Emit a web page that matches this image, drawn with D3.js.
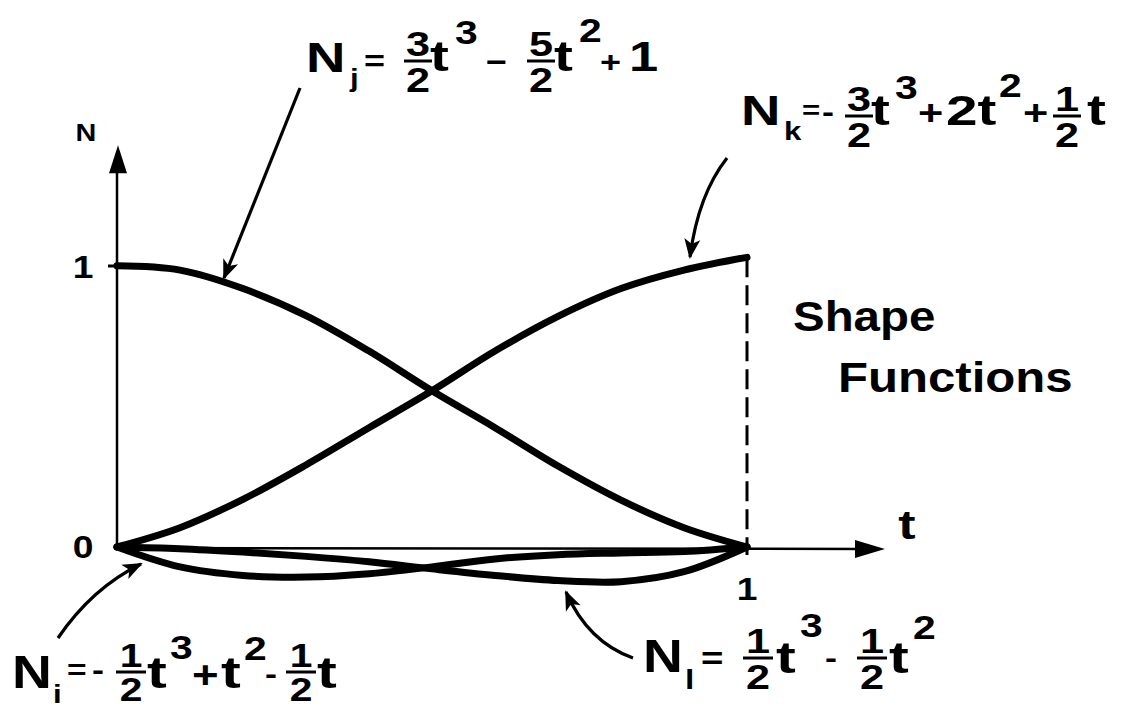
<!DOCTYPE html>
<html>
<head>
<meta charset="utf-8">
<script src="https://cdn.jsdelivr.net/npm/d3@7"></script>
<style>
  html, body { margin: 0; padding: 0; background: #fff; }
  svg { display: block; }
  text { font-family: "Liberation Sans", Arial, Helvetica, sans-serif; font-weight: bold; fill: #000; }
</style>
</head>
<body>
<svg id="chart" width="1141" height="713"></svg>
<script>
// Parameter t sampled across the segment
const tValues = [0, 0.1, 0.2, 0.3, 0.4, 0.5, 0.6, 0.7, 0.8, 0.9, 1];

// Shape function values at each t
const Nj = [0.99, 0.975, 0.91, 0.815, 0.69, 0.55, 0.42, 0.285, 0.165, 0.068, 0];
const Nk = [0, 0.068, 0.168, 0.289, 0.42, 0.55, 0.69, 0.812, 0.91, 0.975, 1.02];
const Ni = [0, -0.07, -0.1, -0.106, -0.094, -0.07, -0.042, -0.027, -0.021, -0.016, 0];
const Nl = [0, -0.006, -0.018, -0.033, -0.052, -0.077, -0.1, -0.118, -0.122, -0.087, 0];

// Axis ticks
const yTickValues = [0, 1];
const yTickLabels = ["0", "1"];
const xTickValues = [1];
const xTickLabels = ["1"];

const svg = d3.select("#chart");
svg.append("rect").attr("width", 1141).attr("height", 713).attr("fill", "#fff");

const x = d3.scaleLinear().domain([0, 1]).range([117, 747]);
const y = d3.scaleLinear().domain([0, 1]).range([547, 263]);

// arrowhead for annotation leaders
const defs = svg.append("defs");
defs.append("marker")
  .attr("id", "head")
  .attr("markerUnits", "userSpaceOnUse")
  .attr("viewBox", "-2 -10 24 20")
  .attr("markerWidth", 24).attr("markerHeight", 20)
  .attr("refX", 18).attr("refY", 0)
  .attr("orient", "auto")
  .append("path")
  .attr("d", "M0,-8 L20,0 L0,8 L5,0 Z")
  .attr("fill", "#000");

// ---- axes ----
const axes = svg.append("g");
const yTop = 1.415, xEnd = 1.219;
axes.append("line")
  .attr("x1", x(0)).attr("y1", y(0)).attr("x2", x(0)).attr("y2", y(yTop) + 20)
  .attr("stroke", "#000").attr("stroke-width", 2.5);
axes.append("path")
  .attr("d", `M${x(0) + 1},${y(yTop)} L${x(0) - 8},${y(yTop) + 28} L${x(0) + 10},${y(yTop) + 28} Z`)
  .attr("fill", "#000");
axes.append("line")
  .attr("x1", x(0)).attr("y1", y(0) + 1).attr("x2", x(xEnd) - 20).attr("y2", y(0) + 2)
  .attr("stroke", "#000").attr("stroke-width", 2.5);
axes.append("path")
  .attr("d", `M${x(xEnd)},${y(0) + 2} L${x(xEnd) - 30},${y(0) - 7} L${x(xEnd) - 30},${y(0) + 11} Z`)
  .attr("fill", "#000");

// tick at N = 1
axes.append("line")
  .attr("x1", x(0) - 9).attr("x2", x(0)).attr("y1", y(1) + 3).attr("y2", y(1) + 3)
  .attr("stroke", "#000").attr("stroke-width", 3);

// dashed guide at t = 1
axes.append("line")
  .attr("x1", x(1)).attr("x2", x(1))
  .attr("y1", y(Nk[Nk.length - 1])).attr("y2", y(0) + 8)
  .attr("stroke", "#000").attr("stroke-width", 3)
  .attr("stroke-dasharray", "20,8");

// tick labels
yTickValues.forEach((v, i) => {
  axes.append("text")
    .attr("transform", `translate(${x(0) - 34},${y(v) + (v === 0 ? 11 : 15)}) scale(1.2,1)`)
    .attr("text-anchor", "middle").attr("font-size", 31)
    .text(yTickLabels[i]);
});
xTickValues.forEach((v, i) => {
  axes.append("text")
    .attr("transform", `translate(${x(v)},${y(0) + 53}) scale(1.2,1)`)
    .attr("text-anchor", "middle").attr("font-size", 31)
    .text(xTickLabels[i]);
});
axes.append("text")
  .attr("transform", `translate(${x(0) - 31},${y(yTop) - 4}) scale(1.2,1)`)
  .attr("text-anchor", "middle").attr("font-size", 24).text("N");
axes.append("text")
  .attr("transform", `translate(${x(xEnd) + 22},${y(0) - 8}) scale(1.3,1)`)
  .attr("text-anchor", "middle").attr("font-size", 40).text("t");

// ---- curves ----
const line = d3.line()
  .x((d, i) => x(tValues[i]))
  .y(d => y(d))
  .curve(d3.curveCatmullRom.alpha(0.5));

[Nj, Nk, Ni, Nl].forEach(series => {
  svg.append("path")
    .attr("d", line(series))
    .attr("fill", "none")
    .attr("stroke", "#000")
    .attr("stroke-width", 7)
    .attr("stroke-linecap", "round")
    .attr("stroke-linejoin", "round");
});

// ---- annotation leaders ----
const leaders = [
  "M300,88 L224,278",
  "M727,158 Q698,195 690,257",
  "M58,638 Q92,588 141,564",
  "M633,658 Q588,642 566,592"
];
leaders.forEach(d => {
  svg.append("path").attr("d", d)
    .attr("fill", "none").attr("stroke", "#000").attr("stroke-width", 3.2)
    .attr("marker-end", "url(#head)");
});

// ---- formula labels ----
const lab = svg.append("g");
function piece(px, py, s, size, sx) {
  lab.append("text")
    .attr("transform", `translate(${px},${py}) scale(${sx || 1.35},1)`)
    .attr("font-size", size)
    .text(s);
}
function frac(cx, barY, num, den, size, w) {
  lab.append("line")
    .attr("x1", cx - w / 2).attr("x2", cx + w / 2)
    .attr("y1", barY).attr("y2", barY)
    .attr("stroke", "#000").attr("stroke-width", 3);
  lab.append("text")
    .attr("transform", `translate(${cx},${barY - 5}) scale(1.2,1)`)
    .attr("text-anchor", "middle").attr("font-size", size).text(num);
  lab.append("text")
    .attr("transform", `translate(${cx},${barY + size * 0.72 + 5}) scale(1.2,1)`)
    .attr("text-anchor", "middle").attr("font-size", size).text(den);
}

// N_j = 3/2 t^3 - 5/2 t^2 + 1
piece(306, 72, "N", 42, 1.3);
piece(350, 87, "j", 26, 1.2);
piece(364, 71, "=", 30, 1.2);
frac(418, 61, "3", "2", 36, 28);
piece(430, 71, "t", 42);
piece(455, 44, "3", 34, 1.2);
piece(486, 72, "\u2212", 30, 1.2);
frac(541, 61, "5", "2", 36, 28);
piece(554, 71, "t", 42);
piece(579, 42, "2", 34, 1.2);
piece(600, 72, "+", 30, 1.2);
piece(629, 71, "1", 42, 1.25);

// N_k = -3/2 t^3 + 2t^2 + 1/2 t
piece(741, 125, "N", 42, 1.3);
piece(784, 140, "k", 26, 1.2);
piece(802, 119, "=", 26, 1.2);
piece(822, 122, "-", 30, 1.2);
frac(859, 116, "3", "2", 36, 28);
piece(871, 125, "t", 42);
piece(895, 99, "3", 34, 1.2);
piece(918, 125, "+", 36, 1.2);
piece(946, 125, "2t", 42);
piece(999, 97, "2", 34, 1.2);
piece(1023, 125, "+", 36, 1.2);
frac(1067, 116, "1", "2", 36, 28);
piece(1087, 125, "t", 42);

// N_i = -1/2 t^3 + t^2 - 1/2 t
piece(12, 688, "N", 46, 1.2);
piece(53, 703, "i", 26, 1.2);
piece(67, 679, "=", 28, 1.2);
piece(92, 680, "-", 30, 1.2);
frac(131, 672, "1", "2", 34, 30);
piece(147, 688, "t", 44);
piece(170, 659, "3", 34, 1.2);
piece(192, 688, "+", 38, 1.2);
piece(221, 688, "t", 44);
piece(244, 660, "2", 34, 1.2);
piece(265, 684, "-", 30, 1.2);
frac(301, 672, "1", "2", 34, 30);
piece(317, 688, "t", 44);

// N_l = 1/2 t^3 - 1/2 t^2
piece(643, 672, "N", 46, 1.2);
piece(685, 689, "l", 28, 1.2);
piece(701, 669, "=", 32, 1.2);
frac(758, 658, "1", "2", 36, 30);
piece(776, 673, "t", 44);
piece(800, 637, "3", 34, 1.2);
piece(825, 668, "-", 30, 1.2);
frac(872, 658, "1", "2", 36, 30);
piece(889, 673, "t", 44);
piece(913, 639, "2", 34, 1.2);

// title block
piece(793, 331, "Shape", 42, 1.13);
piece(838, 392, "Functions", 42, 1.17);
</script>
</body>
</html>
